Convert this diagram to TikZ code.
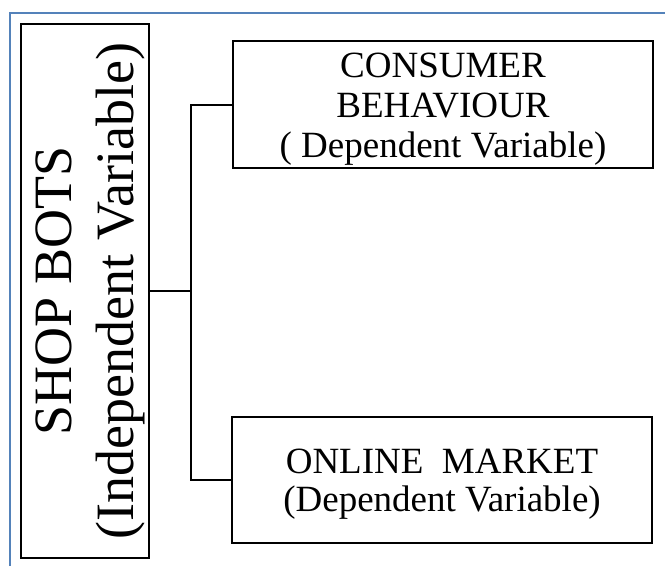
\documentclass[tikz,border=0pt]{standalone}
\usepackage{fontspec}
\setmainfont{Liberation Serif}
\definecolor{framecol}{RGB}{84,130,186}

\begin{document}
\begin{tikzpicture}[x=1pt, y=-1pt,
    box/.style={draw, line width=2pt, inner sep=0pt},
    boxtext/.style={inner sep=0pt, align=center},
    link/.style={line width=2pt}]
  \useasboundingbox (0,0) rectangle (665,566);
  % outer frame, open to the right and bottom
  \draw[framecol, line width=1.5pt] (10,566) -- (10,13) -- (665,13);

  % the three boxes
  \node[box, minimum width=128pt, minimum height=534pt] (shop) at (85,291) {};
  \node[box, minimum width=420pt, minimum height=127pt] (cons) at (443,104.5) {};
  \node[box, minimum width=420pt, minimum height=126pt] (market) at (442,480) {};

  % their texts
  \node[boxtext, rotate=90, font=\fontsize{54}{62}\selectfont]
    (shoptext) at ([xshift=5pt]shop.center) {SHOP BOTS\\(Independent Variable)};
  \node[boxtext, font=\fontsize{37}{40}\selectfont]
    (constext) at ([yshift=-5pt]cons.center) {CONSUMER\\BEHAVIOUR\\( Dependent Variable)};
  \node[boxtext, font=\fontsize{37}{37.5}\selectfont]
    (markettext) at ([yshift=-4pt]market.center) {ONLINE\ \ MARKET\\(Dependent Variable)};

  \coordinate (fork) at (191,291);
  \draw[link] (shop.east) -- (fork);
  \draw[link] (cons.west) -| (fork) |- (market.west);
\end{tikzpicture}
\end{document}
